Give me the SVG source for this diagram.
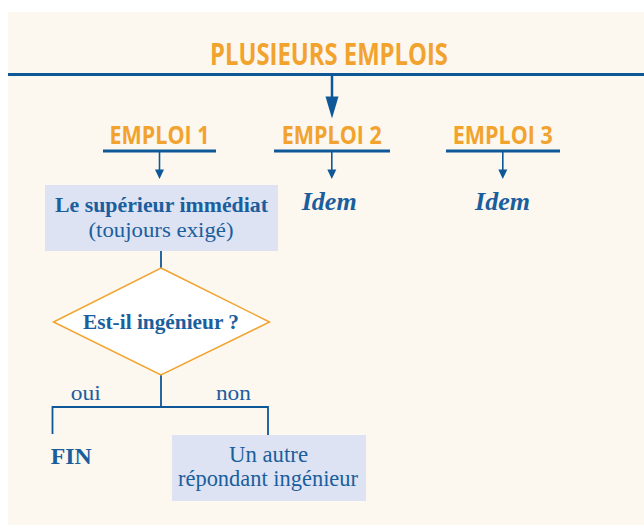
<svg xmlns="http://www.w3.org/2000/svg" width="644" height="525" viewBox="0 0 644 525">
<style>
.bg{fill:#FCF7EF}
.ln{stroke:#0E5898;fill:none}
.ah{fill:#0E5898}
.or{fill:#F2A32E;font-family:"Open Sans","Liberation Sans",sans-serif;font-weight:700;text-anchor:middle}
.sr{fill:#1A5E9E;font-family:"Liberation Serif","Times New Roman",serif;text-anchor:middle}
.b{font-weight:bold}
.it{font-style:italic;font-weight:bold}
.box{fill:#DDE3F2}
.dia{fill:#FFFFFF;stroke:#F2A32E;stroke-width:1.5}
</style>
<rect class="bg" x="8" y="12" width="636" height="513"/>

<g id="connectors">
  <line class="ln" x1="8" y1="74.5" x2="644" y2="74.5" stroke-width="3"/>
  <line class="ln" x1="332" y1="75" x2="332" y2="98" stroke-width="2.5"/>
  <polygon class="ah" points="325.5,96.5 338.5,96.5 332,118.5"/>
  <line class="ln" x1="103" y1="151" x2="216" y2="151" stroke-width="2.8"/>
  <line class="ln" x1="274" y1="151" x2="390" y2="151" stroke-width="2.8"/>
  <line class="ln" x1="446" y1="151" x2="560" y2="151" stroke-width="2.8"/>
  <line class="ln" x1="159.5" y1="152" x2="159.5" y2="171" stroke-width="1.6"/>
  <polygon class="ah" points="155,169.5 164,169.5 159.5,179"/>
  <line class="ln" x1="331.8" y1="152" x2="331.8" y2="171" stroke-width="1.6"/>
  <polygon class="ah" points="327.3,169.5 336.3,169.5 331.8,179"/>
  <line class="ln" x1="502.8" y1="152" x2="502.8" y2="171" stroke-width="1.6"/>
  <polygon class="ah" points="498.3,169.5 507.3,169.5 502.8,179"/>
  <line class="ln" x1="161" y1="251" x2="161" y2="268" stroke-width="1.8"/>
  <line class="ln" x1="161" y1="375" x2="161" y2="407" stroke-width="1.8"/>
  <polyline class="ln" points="52.5,434 52.5,407 268,407 268,435" stroke-width="1.8"/>
</g>

<g id="title">
  <text class="or" x="329" y="65" font-size="30" textLength="238" lengthAdjust="spacingAndGlyphs">PLUSIEURS EMPLOIS</text>
</g>
<g id="emploi1">
  <text class="or" x="159.5" y="143.5" font-size="24.5" textLength="100" lengthAdjust="spacingAndGlyphs">EMPLOI 1</text>
</g>
<g id="emploi2">
  <text class="or" x="331.8" y="143.5" font-size="24.5" textLength="100" lengthAdjust="spacingAndGlyphs">EMPLOI 2</text>
</g>
<g id="emploi3">
  <text class="or" x="502.8" y="143.5" font-size="24.5" textLength="100" lengthAdjust="spacingAndGlyphs">EMPLOI 3</text>
</g>

<g id="superieur">
  <rect class="box" x="45" y="185" width="233" height="66"/>
  <text class="sr b" x="161.5" y="212" font-size="21.5" textLength="213" lengthAdjust="spacingAndGlyphs">Le supérieur immédiat</text>
  <text class="sr" x="161" y="237" font-size="22" textLength="145" lengthAdjust="spacingAndGlyphs">(toujours exigé)</text>
</g>

<g id="idem2">
  <text class="sr it" x="329.2" y="210" font-size="26" textLength="55" lengthAdjust="spacingAndGlyphs">Idem</text>
</g>
<g id="idem3">
  <text class="sr it" x="502.5" y="210" font-size="26" textLength="55" lengthAdjust="spacingAndGlyphs">Idem</text>
</g>

<g id="question">
  <polygon class="dia" points="161,268 269.5,322 161,375 53.5,322"/>
  <text class="sr b" x="161" y="328.5" font-size="21.5" textLength="156" lengthAdjust="spacingAndGlyphs">Est-il ingénieur ?</text>
</g>

<g id="labels">
  <text class="sr" x="85.7" y="400" font-size="22" textLength="30" lengthAdjust="spacingAndGlyphs">oui</text>
  <text class="sr" x="233.4" y="400" font-size="22" textLength="35" lengthAdjust="spacingAndGlyphs">non</text>
</g>

<g id="fin">
  <text class="sr b" x="71.3" y="463.5" font-size="24" textLength="41" lengthAdjust="spacingAndGlyphs">FIN</text>
</g>

<g id="autre">
  <rect class="box" x="172" y="435" width="194" height="66"/>
  <text class="sr" x="268.5" y="462" font-size="22.5" textLength="79" lengthAdjust="spacingAndGlyphs">Un autre</text>
  <text class="sr" x="268" y="486" font-size="22.5" textLength="180" lengthAdjust="spacingAndGlyphs">répondant ingénieur</text>
</g>
</svg>
